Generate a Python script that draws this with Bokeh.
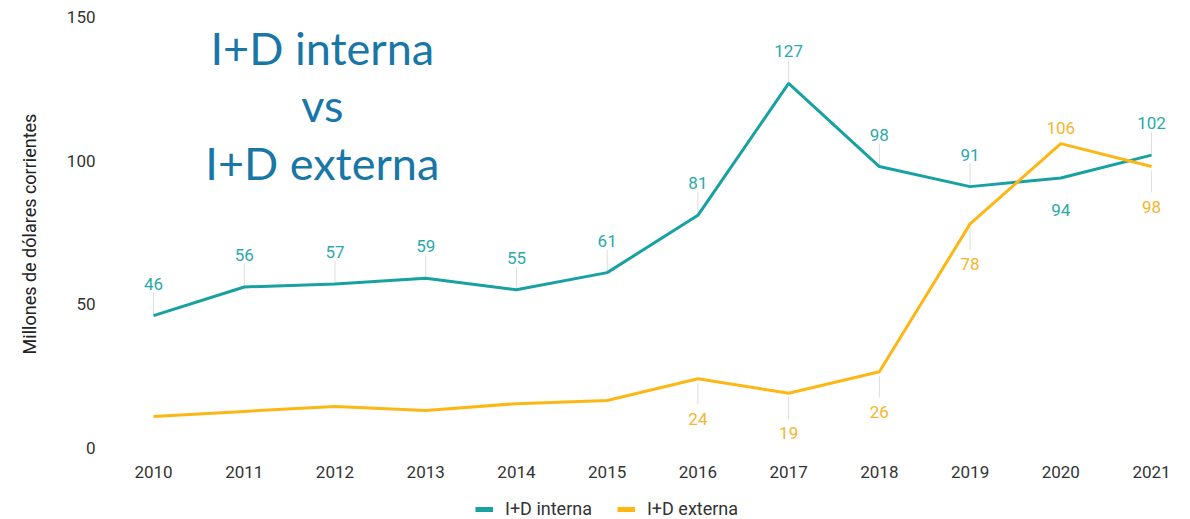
from bokeh.plotting import figure
from bokeh.models import Range1d, FixedTicker, Legend, LegendItem, Label, ColumnDataSource
from bokeh.layouts import column
from bokeh.embed import file_html
from bokeh.resources import INLINE
from bokeh.core.properties import value

# ---- data ----
years = [2010, 2011, 2012, 2013, 2014, 2015, 2016, 2017, 2018, 2019, 2020, 2021]
interna = [46, 56, 57, 59, 55, 61, 81, 127, 98, 91, 94, 102]
externa = [10.8, 12.6, 14.3, 12.9, 15.3, 16.4, 24, 18.9, 26.4, 78, 106, 98]
interna_label_pos = ["above"] * 10 + ["below", "above"]
externa_label_pos = [None] * 6 + ["below", "below", "below", "below", "above", "below"]
y_ticks = [0, 50, 100, 150]
title_lines = ["I+D interna", "vs", "I+D externa"]
series_names = ["I+D interna", "I+D externa"]

TEAL = "#17A1A1"
TEAL_TXT = "#2BA9A9"
YEL = "#FDB714"
YEL_TXT = "#F5B52E"
BLUE = "#1877A6"
GREY = "#333333"

W, H, HL = 1190, 490, 29
ML, MR, MT, MB = 118, 12, 12, 35
Y0, Y1 = -2.79, 151.74
p = figure(width=W, height=H, x_range=Range1d(2009.614, 2021.297), y_range=Range1d(Y0, Y1),
           output_backend="svg", toolbar_location=None,
           min_border_left=ML, min_border_right=MR, min_border_top=MT, min_border_bottom=MB)
p.outline_line_color = None
p.grid.visible = False
p.background_fill_color = "white"
p.border_fill_color = "white"

ppu = (H - MT - MB) / (Y1 - Y0)  # pixels per unit

for ax in (p.xaxis[0], p.yaxis[0]):
    ax.axis_line_color = None
    ax.major_tick_line_color = None
    ax.minor_tick_line_color = None
    ax.major_label_text_font = "Roboto"
    ax.major_label_text_font_size = "17px"
    ax.major_label_text_color = GREY
p.xaxis.ticker = FixedTicker(ticks=years)
p.yaxis.ticker = FixedTicker(ticks=y_ticks)
p.xaxis.major_label_standoff = 4
p.yaxis.major_label_standoff = 17
p.yaxis.axis_label = "Millones de dólares corrientes"
p.yaxis.axis_label_text_font = "Roboto"
p.yaxis.axis_label_text_font_size = "18px"
p.yaxis.axis_label_text_font_style = "normal"
p.yaxis.axis_label_text_color = "#222222"
p.yaxis.axis_label_standoff = 24


def label_data(vals, positions, up_px, down_px, lead_up, lead_down):
    xs, ys, ts, sx, sy0, sy1 = [], [], [], [], [], []
    for x, v, pos in zip(years, vals, positions):
        if pos is None:
            continue
        xs.append(x)
        ts.append(f"{v:.0f}")
        if pos == "above":
            ys.append(v + up_px / ppu)
            if lead_up:
                sx.append(x); sy0.append(v + lead_up[0] / ppu); sy1.append(v + lead_up[1] / ppu)
        else:
            ys.append(v - down_px / ppu)
            if lead_down:
                sx.append(x); sy0.append(v - lead_down[0] / ppu); sy1.append(v - lead_down[1] / ppu)
    return dict(x=xs, y=ys, t=ts), dict(x=sx, y0=sy0, y1=sy1)

ti_lab, ti_lead = label_data(interna, interna_label_pos, 32, 32, (0, 23), None)
ex_lab, ex_lead = label_data(externa, externa_label_pos, 16, 40, None, (4, 26))

for lead in (ti_lead, ex_lead):
    p.segment(x0="x", y0="y0", x1="x", y1="y1", source=ColumnDataSource(lead),
              line_color="#DDDDDD", line_width=1)

r1 = p.line(years, interna, line_color=TEAL, line_width=3)
r2 = p.line(years, externa, line_color=YEL, line_width=3)

p.text(x="x", y="y", text="t", source=ColumnDataSource(ti_lab), text_color=TEAL_TXT,
       text_font=value("Roboto"), text_font_size="17px", text_align="center", text_baseline="middle")
p.text(x="x", y="y", text="t", source=ColumnDataSource(ex_lab), text_color=YEL_TXT,
       text_font=value("Roboto"), text_font_size="17px", text_align="center", text_baseline="middle")

# title block
for i, t in enumerate(title_lines):
    p.add_layout(Label(x=2011.86, y=139.5 - i * 20.1, text=t, text_align="center",
                       text_baseline="middle", text_font="Lato", text_font_size="45px",
                       text_color=BLUE))

# legend strip (separate figure below the chart; frames are aligned with the chart)
pl = figure(width=W, height=HL, x_range=Range1d(0, 1), y_range=Range1d(0, 1),
            output_backend="svg", toolbar_location=None,
            x_axis_location=None, y_axis_location=None,
            min_border_left=ML, min_border_right=MR, min_border_top=0, min_border_bottom=0)
pl.outline_line_color = None
pl.grid.visible = False
pl.background_fill_color = "white"
pl.border_fill_color = "white"
# legend proxies (drawn outside the visible range; only their legend glyphs show)
d1 = pl.line(x=[-5, -4], y=[-5, -5], line_color=TEAL, line_width=5)
d2 = pl.line(x=[-5, -4], y=[-5, -5], line_color=YEL, line_width=5)
legend = Legend(items=[LegendItem(label=series_names[0], renderers=[d1]),
                       LegendItem(label=series_names[1], renderers=[d2])],
                orientation="horizontal", location=(357, 0),
                label_text_font="Roboto", label_text_font_size="18px", label_text_color=GREY,
                glyph_width=18, glyph_height=20, label_standoff=12, spacing=25,
                padding=0, margin=0, border_line_color=None, background_fill_alpha=0)
pl.add_layout(legend)

layout = column(p, pl, spacing=0)
open("out.html", "w").write(file_html(layout, INLINE))
